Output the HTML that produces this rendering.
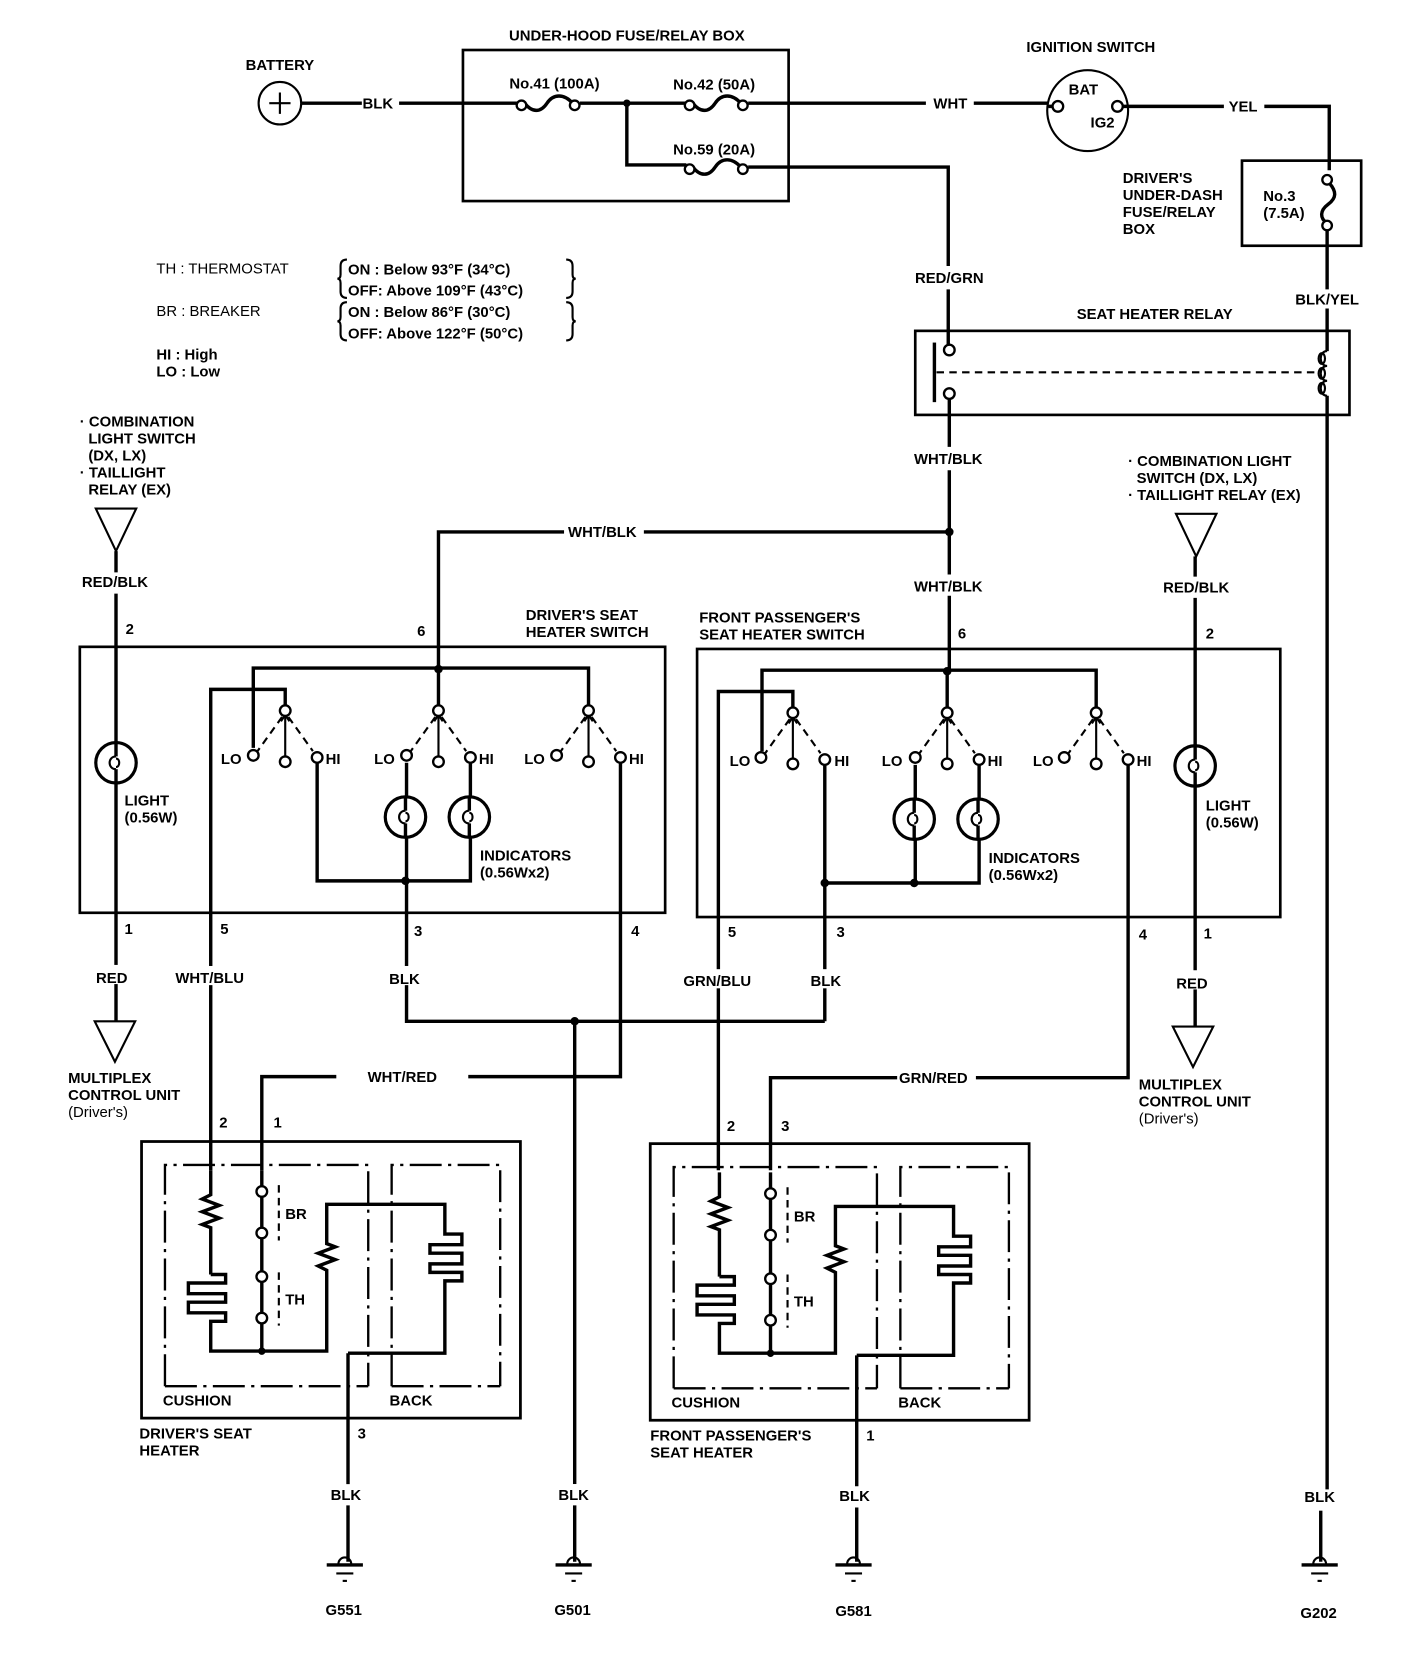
<!DOCTYPE html>
<html><head><meta charset="utf-8"><style>
html,body{margin:0;padding:0;background:#fff}
svg{display:block}
text{font-family:"Liberation Sans",sans-serif;font-weight:bold;font-size:14px;fill:#000}
.w{stroke:#000;stroke-width:3.2;fill:none}
.t{stroke:#000;stroke-width:2;fill:none}
.c{stroke:#000;stroke-width:2.2;fill:#fff}
.d{stroke:#000;stroke-width:2;fill:none;stroke-dasharray:7 5}
.dd{stroke:#000;stroke-width:2.2;fill:none;stroke-dasharray:30 6 3 6}
.lb{fill:#fff;stroke:none}
</style></head><body>
<svg width="1408" height="1666" viewBox="0 0 1323 1566" preserveAspectRatio="none">
<defs>
<g id="sw">
 <line class="t" x1="0" y1="5" x2="0" y2="44"/>
 <line class="d" x1="-3" y1="6" x2="-26" y2="38" stroke-dasharray="6 5"/>
 <line class="d" x1="3" y1="6" x2="26" y2="38" stroke-dasharray="6 5"/>
 <path d="M-4 10 L0 4 L4 10" class="t"/>
 <circle class="c" cx="0" cy="0" r="5"/>
 <circle class="c" cx="-30" cy="42" r="5"/>
 <circle class="c" cx="0" cy="48" r="5"/>
 <circle class="c" cx="30" cy="44" r="5"/>
</g>
<g id="lamp">
 <circle cx="0" cy="0" r="19" stroke="#000" stroke-width="3" fill="#fff"/>
 <line class="w" x1="0" y1="-19" x2="0" y2="-6"/>
 <line class="w" x1="0" y1="6" x2="0" y2="19"/>
 <path d="M0 -6 C-8 -6 -8 6 0 6 M0 -4 C4 -4 4 4 0 4" class="t"/>
</g>
<g id="gnd">
 <path d="M-6 0 A6 6 0 0 1 6 0" class="t"/>
 <line x1="-17" y1="1" x2="17" y2="1" class="w"/>
 <line x1="-8" y1="9" x2="8" y2="9" class="t"/>
 <line x1="-2" y1="16" x2="2" y2="16" class="t"/>
</g>
<g id="heater">
 <rect x="133" y="1073" width="356" height="260" stroke="#000" stroke-width="2.6" fill="none"/>
 <path class="dd" d="M155 1303 V1095 H346 V1303"/>
 <path class="dd" d="M368 1303 V1095 H470 V1303"/>
 <line class="dd" x1="155" y1="1303" x2="346" y2="1303"/>
 <line class="dd" x1="368" y1="1303" x2="470" y2="1303"/>
 <line x1="262" y1="1114" x2="262" y2="1166" class="d" stroke-dasharray="8 4"/>
 <line x1="262" y1="1196" x2="262" y2="1246" class="d" stroke-dasharray="8 4"/>
 <path class="w" d="M198 1100 V1123 l-8 4 l16 6 l-16 6 l16 6 l-16 6 l8 3 V1198"/>
 <path class="w" d="M198 1198 h14 v8 h-35 v10 h35 v8 h-35 v10 h35 v8 h-14 V1270 H307 V1194 l-8 -4 l16 -6 l-16 -6 l16 -6 l-8 -3 V1132 H418 V1160 h16 v10 h-30 v8 h30 v10 h-30 v8 h30 v8 h-16 V1272 H327"/>
 <path class="w" d="M246 1100 V1115 M246 1125 V1154 M246 1164 V1195 M246 1205 V1234 M246 1244 V1270"/>
 <circle class="c" cx="246" cy="1120" r="5"/><circle class="c" cx="246" cy="1159" r="5"/>
 <circle class="c" cx="246" cy="1200" r="5"/><circle class="c" cx="246" cy="1239" r="5"/>
 <circle cx="246" cy="1270" r="3.5"/>
 <text x="268" y="1146">BR</text><text x="268" y="1226">TH</text>
</g>
</defs>

<!-- top -->
<text x="263" y="66" text-anchor="middle">BATTERY</text>
<circle cx="263" cy="97" r="20" class="t" stroke-width="2.5"/>
<path class="t" d="M263 87 V107 M253 97 H273"/>
<path class="w" d="M283 97 H340 M375 97 H488"/>
<text x="355" y="102" text-anchor="middle">BLK</text>
<rect x="435" y="47" width="306" height="142" stroke="#000" stroke-width="2.5" fill="none"/>
<text x="589" y="38" text-anchor="middle">UNDER-HOOD FUSE/RELAY BOX</text>
<text x="521" y="83" text-anchor="middle">No.41 (100A)</text>
<text x="671" y="84" text-anchor="middle">No.42 (50A)</text>
<text x="671" y="145" text-anchor="middle">No.59 (20A)</text>
<path class="w" d="M493 97 C500 106 508 106 514 97 C520 88 530 88 538 97"/>
<circle class="c" cx="490" cy="99" r="4.5"/><circle class="c" cx="540" cy="99" r="4.5"/>
<path class="w" d="M545 97 H645"/>
<path class="w" d="M651 97 C658 106 666 106 672 97 C678 88 688 88 696 97"/>
<circle class="c" cx="648" cy="99" r="4.5"/><circle class="c" cx="698" cy="99" r="4.5"/>
<path class="w" d="M703 97 H870 M915 97 H985"/>
<text x="893" y="102" text-anchor="middle">WHT</text>
<circle cx="589" cy="97" r="3.5"/>
<path class="w" d="M589 97 V155 H645"/>
<path class="w" d="M651 157 C658 166 666 166 672 157 C678 148 688 148 696 157"/>
<circle class="c" cx="648" cy="159" r="4.5"/><circle class="c" cx="698" cy="159" r="4.5"/>
<path class="w" d="M703 157 H891 V250 M891 272 V325"/>
<text x="892" y="266" text-anchor="middle">RED/GRN</text>
<text x="1025" y="49" text-anchor="middle">IGNITION SWITCH</text>
<circle cx="1022" cy="104" r="38" class="t" stroke-width="2.5"/>
<text x="1018" y="89" text-anchor="middle">BAT</text>
<text x="1036" y="120" text-anchor="middle">IG2</text>
<circle class="c" cx="994" cy="100" r="5"/><circle class="c" cx="1050" cy="100" r="5"/>
<path class="w" d="M985 100 H989 M1055 100 H1150 M1188 100 H1249 V160"/>
<text x="1168" y="105" text-anchor="middle">YEL</text>
<text x="1055" y="172">DRIVER'S</text><text x="1055" y="188">UNDER-DASH</text>
<text x="1055" y="204">FUSE/RELAY</text><text x="1055" y="220">BOX</text>
<rect x="1167" y="151" width="112" height="80" stroke="#000" stroke-width="2.5" fill="none"/>
<text x="1187" y="189">No.3</text><text x="1187" y="205">(7.5A)</text>
<path class="w" d="M1249 172 C1256 180 1256 186 1248 192 C1240 198 1240 205 1247 210"/>
<circle class="c" cx="1247" cy="169" r="4.5"/><circle class="c" cx="1247" cy="212" r="4.5"/>
<path class="w" d="M1247 217 V272 M1247 290 V330 M1247 372 V1400"/>
<text x="1247" y="286" text-anchor="middle">BLK/YEL</text>
<text x="1085" y="300" text-anchor="middle">SEAT HEATER RELAY</text>
<rect x="860" y="311" width="408" height="79" stroke="#000" stroke-width="2.5" fill="none"/>
<path class="t" d="M1247 330 c-8 0 -8 14 0 14 c-8 0 -8 14 0 14 c-8 0 -8 14 0 14"/>
<ellipse cx="1242" cy="337" rx="3" ry="5" class="t"/><ellipse cx="1242" cy="351" rx="3" ry="5" class="t"/><ellipse cx="1242" cy="365" rx="3" ry="5" class="t"/>
<line class="d" x1="880" y1="350" x2="1236" y2="350"/>
<line class="w" x1="878" y1="322" x2="878" y2="378"/>
<circle class="c" cx="892" cy="329" r="5"/><circle class="c" cx="892" cy="370" r="5"/>
<path class="w" d="M892 375 V420 M892 442 V540 M892 560 V630"/>
<text x="891" y="436" text-anchor="middle">WHT/BLK</text>
<text x="891" y="556" text-anchor="middle">WHT/BLK</text>
<circle cx="892" cy="500" r="4"/>
<path class="w" d="M892 500 H605 M530 500 H412 V630"/>
<text x="566" y="505" text-anchor="middle">WHT/BLK</text>

<text x="147" y="257" style="font-weight:normal" font-size="16">TH : THERMOSTAT</text>
<text x="147" y="297" style="font-weight:normal" font-size="16">BR : BREAKER</text>
<text x="327" y="258">ON  : Below 93°F (34°C)</text>
<text x="327" y="278">OFF: Above 109°F (43°C)</text>
<text x="327" y="298">ON  : Below 86°F (30°C)</text>
<text x="327" y="318">OFF: Above 122°F (50°C)</text>
<path class="t" d="M326 244 q-6 0 -6 6 v8 q0 4 -3 4 q3 0 3 4 v8 q0 6 6 6 M532 244 q6 0 6 6 v8 q0 4 3 4 q-3 0 -3 4 v8 q0 6 -6 6"/>
<path class="t" d="M326 284 q-6 0 -6 6 v8 q0 4 -3 4 q3 0 3 4 v8 q0 6 6 6 M532 284 q6 0 6 6 v8 q0 4 3 4 q-3 0 -3 4 v8 q0 6 -6 6"/>
<text x="147" y="338" font-size="13">HI  : High</text>
<text x="147" y="354" font-size="13">LO : Low</text>

<text x="75" y="401">· COMBINATION</text><text x="83" y="417">LIGHT SWITCH</text>
<text x="83" y="433">(DX, LX)</text><text x="75" y="449">· TAILLIGHT</text><text x="83" y="465">RELAY (EX)</text>
<path class="t" d="M90 478 H128 L109 518 Z"/>
<path class="w" d="M109 518 V538 M109 558 V960"/>
<text x="108" y="552" text-anchor="middle">RED/BLK</text>
<text x="118" y="596">2</text><text x="117" y="878">1</text>
<use href="#lamp" x="109" y="717"/>
<text x="117" y="757">LIGHT</text><text x="117" y="773">(0.56W)</text>
<rect class="lb" x="90" y="907" width="36" height="18"/>
<text x="105" y="924" text-anchor="middle">RED</text>
<path class="t" d="M89 960 H127 L108 998 Z"/>
<text x="64" y="1018">MULTIPLEX</text><text x="64" y="1034">CONTROL UNIT</text><text x="64" y="1050" style="font-weight:normal">(Driver's)</text>

<rect x="75" y="608" width="550" height="250" stroke="#000" stroke-width="2.5" fill="none"/>
<text x="494" y="583">DRIVER'S SEAT</text><text x="494" y="599">HEATER SWITCH</text>
<text x="392" y="598">6</text>
<path class="w" d="M238 703 V628 H553 V663 M412 628 V663"/>
<circle cx="412" cy="629" r="4"/>
<path class="w" d="M198 1100 V648 H268 V663"/>
<use href="#sw" x="268" y="668"/><use href="#sw" x="412" y="668"/><use href="#sw" x="553" y="668"/>
<text x="227" y="718" text-anchor="end">LO</text><text x="306" y="718">HI</text>
<text x="371" y="718" text-anchor="end">LO</text><text x="450" y="718">HI</text>
<text x="512" y="718" text-anchor="end">LO</text><text x="591" y="718">HI</text>
<path class="w" d="M298 717 V828 H442 V717 M382 717 V960 H775 M583 717 V1012 H440 M316 1012 H246 V1100"/>
<use href="#lamp" x="381" y="768"/><use href="#lamp" x="441" y="768"/>
<circle cx="381" cy="828" r="4"/>
<text x="451" y="809">INDICATORS</text><text x="451" y="825">(0.56Wx2)</text>
<text x="207" y="878">5</text><text x="389" y="880">3</text><text x="593" y="880">4</text>
<rect class="lb" x="162" y="908" width="70" height="18"/><text x="197" y="924" text-anchor="middle">WHT/BLU</text>
<rect class="lb" x="364" y="908" width="34" height="18"/><text x="380" y="925" text-anchor="middle">BLK</text>
<text x="378" y="1017" text-anchor="middle">WHT/RED</text>
<circle cx="540" cy="960" r="4"/>
<path class="w" d="M540 960 V1395 M540 1415 V1468"/>
<rect class="lb" x="524" y="1395" width="32" height="18"/><text x="539" y="1410" text-anchor="middle">BLK</text>

<rect x="655" y="610" width="548" height="252" stroke="#000" stroke-width="2.5" fill="none"/>
<text x="657" y="585">FRONT PASSENGER'S</text><text x="657" y="601">SEAT HEATER SWITCH</text>
<text x="900" y="600">6</text>
<path class="w" d="M716 706 V630 H1030 V665 M890 630 V665"/>
<circle cx="890" cy="631" r="4"/>
<path class="w" d="M675 1100 V650 H745 V665"/>
<use href="#sw" x="745" y="670"/><use href="#sw" x="890" y="670"/><use href="#sw" x="1030" y="670"/>
<text x="705" y="720" text-anchor="end">LO</text><text x="784" y="720">HI</text>
<text x="848" y="720" text-anchor="end">LO</text><text x="928" y="720">HI</text>
<text x="990" y="720" text-anchor="end">LO</text><text x="1068" y="720">HI</text>
<path class="w" d="M775 719 V960 M775 830 H920 V719 M860 719 V830 M1060 719 V1013 H917 M843 1013 H724 V1100"/>
<use href="#lamp" x="859" y="770"/><use href="#lamp" x="919" y="770"/>
<circle cx="775" cy="830" r="4"/><circle cx="859" cy="830" r="4"/>
<text x="929" y="811">INDICATORS</text><text x="929" y="827">(0.56Wx2)</text>
<text x="684" y="881">5</text><text x="786" y="881">3</text><text x="1070" y="883">4</text>
<rect class="lb" x="640" y="911" width="70" height="18"/><text x="674" y="927" text-anchor="middle">GRN/BLU</text>
<rect class="lb" x="760" y="911" width="34" height="18"/><text x="776" y="927" text-anchor="middle">BLK</text>
<text x="877" y="1018" text-anchor="middle">GRN/RED</text>

<text x="1060" y="438">· COMBINATION LIGHT</text><text x="1068" y="454">SWITCH (DX, LX)</text>
<text x="1060" y="470">· TAILLIGHT RELAY (EX)</text>
<path class="t" d="M1105 483 H1143 L1124 523 Z"/>
<path class="w" d="M1123 523 V542 M1123 562 V965"/>
<text x="1124" y="557" text-anchor="middle">RED/BLK</text>
<text x="1133" y="600">2</text><text x="1131" y="882">1</text>
<use href="#lamp" x="1123" y="720"/>
<text x="1133" y="762">LIGHT</text><text x="1133" y="778">(0.56W)</text>
<rect class="lb" x="1104" y="912" width="36" height="18"/>
<text x="1120" y="929" text-anchor="middle">RED</text>
<path class="t" d="M1102 965 H1140 L1121 1003 Z"/>
<text x="1070" y="1024">MULTIPLEX</text><text x="1070" y="1040">CONTROL UNIT</text><text x="1070" y="1056" style="font-weight:normal">(Driver's)</text>

<use href="#heater"/>
<use href="#heater" x="478" y="2"/>
<text x="153" y="1321">CUSHION</text><text x="366" y="1321">BACK</text>
<text x="131" y="1352">DRIVER'S SEAT</text><text x="131" y="1368">HEATER</text>
<text x="206" y="1060">2</text><text x="257" y="1060">1</text>
<text x="336" y="1352">3</text>
<text x="631" y="1323">CUSHION</text><text x="844" y="1323">BACK</text>
<text x="611" y="1354">FRONT PASSENGER'S</text><text x="611" y="1370">SEAT HEATER</text>
<text x="683" y="1063">2</text><text x="734" y="1063">3</text>
<text x="814" y="1354">1</text>
<path class="w" d="M327 1272 V1395 M327 1415 V1468"/>
<text x="325" y="1410" text-anchor="middle">BLK</text>
<path class="w" d="M805 1274 V1397 M805 1417 V1468"/>
<text x="803" y="1411" text-anchor="middle">BLK</text>
<text x="1240" y="1412" text-anchor="middle">BLK</text>
<path class="w" d="M1241 1420 V1468"/>

<use href="#gnd" x="324" y="1470"/><use href="#gnd" x="539" y="1470"/>
<use href="#gnd" x="802" y="1470"/><use href="#gnd" x="1240" y="1470"/>
<text x="323" y="1518" text-anchor="middle">G551</text>
<text x="538" y="1518" text-anchor="middle">G501</text>
<text x="802" y="1519" text-anchor="middle">G581</text>
<text x="1239" y="1521" text-anchor="middle">G202</text>
</svg>
</body></html>
